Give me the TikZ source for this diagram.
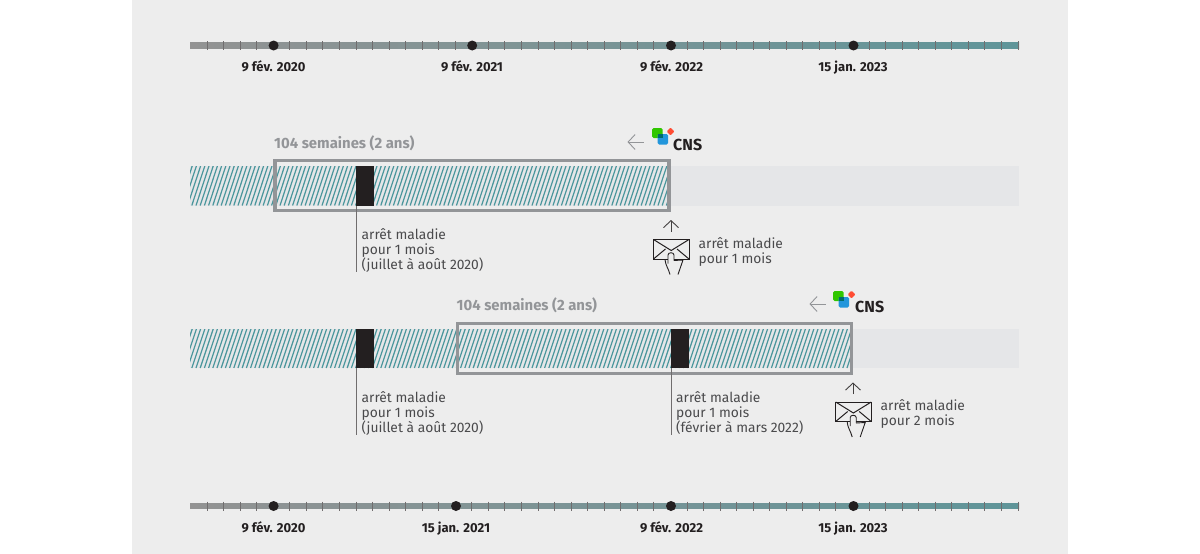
\documentclass[tikz,border=0pt]{standalone}
\usepackage{fontspec}
\usetikzlibrary{arrows.meta}
\setmainfont{Fira Sans}
\definecolor{bgc}{HTML}{EDEDED}
\definecolor{barc}{HTML}{E5E6E8}
\definecolor{teal1}{HTML}{5F9599}
\definecolor{teal2}{HTML}{4A969C}
\definecolor{gray1}{HTML}{939393}
\definecolor{framec}{HTML}{939598}
\definecolor{ink}{HTML}{231F20}
\definecolor{lab}{HTML}{4A4A4C}
\tikzset{
 x=1pt,y=-1pt,
 tick/.style={draw=ink!65,line width=.9pt},
 dotn/.style={circle,fill=ink,inner sep=0pt,minimum size=10pt},
 date/.style={font=\fontsize{13}{15}\selectfont\bfseries,text=ink,anchor=base,inner sep=0pt},
 note/.style={font=\fontsize{13.8}{15}\selectfont,text=lab,align=left,anchor=north west,inner sep=0pt},
 span/.style={font=\fontsize{14.9}{15}\selectfont\bfseries,text=framec,anchor=west,inner sep=0pt},
 frameb/.style={draw=framec,line width=3.4pt},
 stopbar/.style={fill=ink,draw=none},
 leader/.style={draw=ink!65,line width=1.1pt},
 arr/.style={draw=#1,line width=.9pt},
 cns/.style={font=\fontsize{16}{16}\selectfont\bfseries,text=ink,anchor=west,inner sep=0pt},
}
\newcommand{\tline}[1]{%
 \fill[left color=gray1,right color=teal1] (190,#1-2.6) rectangle (1019,#1+2.6);
 \foreach \k in {0,...,49} {\draw[tick] ({207+\k*16.55},#1-4.5) -- ({207+\k*16.55},#1+4.5);}
}
\newcommand{\hatch}[3]{% xend, ytop, ybot
 \begin{scope}
 \clip (190,#2) rectangle (#1,#3);
 \foreach \k in {0,...,170} {\draw[teal2,line width=1.2pt] ({175+\k*4.2},#3) -- ({175+\k*4.2+13},#2);}
 \end{scope}
}
\newcommand{\logo}[2]{% x,y top-left of logo
 \begin{scope}[shift={(#1,#2)}]
 \fill[green!70!black!75!lime,rounded corners=1.5pt] (0,0) rectangle (10.5,10);
 \fill[red!75!orange!80!white,rotate around={45:(18.5,3.5)},rounded corners=.8pt] (15.8,.8) rectangle (21.2,6.2);
 \fill[cyan!75!blue!90!white,rounded corners=1.5pt] (5.5,6) rectangle (16,16.5);
 \fill[teal!85!black] (5.5,6) rectangle (10.5,10);
 \end{scope}
}
\newcommand{\envelope}[2]{% x,y top-left
 \begin{scope}[shift={(#1,#2)},line width=1pt,draw=ink]
 \draw (0,0) rectangle (35.5,19.5);
 \draw (0,0) -- (17.7,11) -- (35.5,0);
 \draw (0,19.5) -- (12,9.5);
 \draw (35.5,19.5) -- (23.5,9.5);
 \fill[bgc] (14.5,14) rectangle (20.5,24);
 \begin{scope}[line width=.9pt]
 \draw (16.5,35) .. controls (15,29) and (12,26) .. (11.5,20);
 \draw (14.5,24) -- (14.5,15.5) .. controls (14.5,12.5) and (20.5,12.5) .. (20.5,15.5) -- (20.5,21);
 \draw (20.5,21) -- (29.5,20.5) -- (24.5,35);
 \end{scope}
 \end{scope}
}
\begin{document}
\begin{tikzpicture}
\useasboundingbox (0,0) rectangle (1200,554);
\fill[white] (0,0) rectangle (1200,554);
\fill[bgc] (132,0) rectangle (1068,554);

% top timeline
\tline{45.5}
\node[dotn] (a1) at (273.6,45.5) {};
\node[dotn] (a2) at (472.2,45.5) {};
\node[dotn] (a3) at (671,45.5) {};
\node[dotn] (a4) at (853.5,45.5) {};
\node[date] (al1) at (273.5,71.5) {9 fév. 2020};
\node[date] (al2) at (472,71.5) {9 fév. 2021};
\node[date] (al3) at (671.5,71.5) {9 fév. 2022};
\node[date] (al4) at (853,71.5) {15 jan. 2023};

% first row
\fill[barc] (190,166) rectangle (1019,205.5);
\hatch{669}{166}{205.5}
\fill[stopbar] (356,166) rectangle (373.5,205.5);
\node[frameb,inner sep=0pt,minimum width=394pt,minimum height=50pt] (f1) at (472,185.5) {};
\node[span] (s1) at (274,143) {104 semaines (2 ans)};
\coordinate (c1a) at (356.8,205.5);
\coordinate (c1b) at (356.8,272);
\draw[leader] (c1a) -- (c1b);
\node[note] (n1) at (361.5,228.5) {arrêt maladie\\pour 1 mois\\(juillet à août 2020)};
\coordinate (l1a) at (643.5,142);
\coordinate (l1b) at (627.5,142);
\draw[arr=framec,-{Straight Barb[length=7pt,width=15pt]}] (l1a) -- (l1b);
\logo{652}{128}
\node[cns] (cns1) at (673,144.5) {CNS};
\coordinate (u1a) at (671,231.5);
\coordinate (u1b) at (671,220);
\draw[arr=ink!85,-{Straight Barb[length=7pt,width=15pt]}] (u1a) -- (u1b);
\envelope{653.5}{239.5}
\node[note] (m1) at (698.5,237) {arrêt maladie\\pour 1 mois};

% second row
\fill[barc] (190,329) rectangle (1019,368);
\hatch{852}{329}{368}
\fill[stopbar] (356,329) rectangle (373.5,368);
\fill[stopbar] (671,329) rectangle (688.5,368);
\node[frameb,inner sep=0pt,minimum width=394pt,minimum height=50pt] (f2) at (654.5,348.5) {};
\node[span] (s2) at (456.5,305) {104 semaines (2 ans)};
\coordinate (c2a) at (356.8,368);
\coordinate (c2b) at (356.8,434.5);
\draw[leader] (c2a) -- (c2b);
\node[note] (n2) at (361.5,391.5) {arrêt maladie\\pour 1 mois\\(juillet à août 2020)};
\coordinate (c3a) at (671.5,368);
\coordinate (c3b) at (671.5,434.5);
\draw[leader] (c3a) -- (c3b);
\node[note] (n3) at (676,391.5) {arrêt maladie\\pour 1 mois\\(février à mars 2022)};
\coordinate (l2a) at (825.5,304);
\coordinate (l2b) at (809.5,304);
\draw[arr=framec,-{Straight Barb[length=7pt,width=15pt]}] (l2a) -- (l2b);
\logo{833}{291}
\node[cns] (cns2) at (855,306.5) {CNS};
\coordinate (u2a) at (853,394);
\coordinate (u2b) at (853,382.5);
\draw[arr=ink!85,-{Straight Barb[length=7pt,width=15pt]}] (u2a) -- (u2b);
\envelope{835.7}{402}
\node[note] (m2) at (880.5,399) {arrêt maladie\\pour 2 mois};

% bottom timeline
\tline{506}
\node[dotn] (b1) at (273.6,506) {};
\node[dotn] (b2) at (456,506) {};
\node[dotn] (b3) at (671,506) {};
\node[dotn] (b4) at (853.5,506) {};
\node[date] (bl1) at (273.5,532) {9 fév. 2020};
\node[date] (bl2) at (456,532) {15 jan. 2021};
\node[date] (bl3) at (671.5,532) {9 fév. 2022};
\node[date] (bl4) at (853,532) {15 jan. 2023};
\end{tikzpicture}
\end{document}
